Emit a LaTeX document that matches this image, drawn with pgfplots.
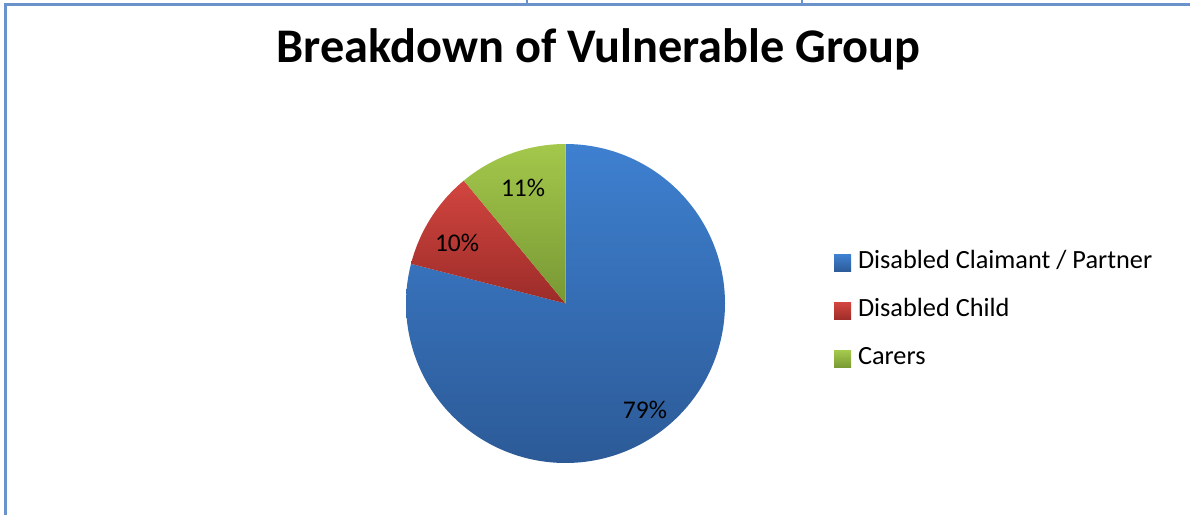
\documentclass[border=0pt]{standalone}
\usepackage{pgfplots}
\pgfplotsset{compat=1.18}
\usepackage{fontspec}
\setmainfont{Carlito}
\definecolor{frameblue}{HTML}{6A93CC}
\definecolor{bT}{HTML}{3E80D0}
\definecolor{bB}{HTML}{2C5A97}
\definecolor{rT}{HTML}{D2453F}
\definecolor{rB}{HTML}{9C2C29}
\definecolor{gT}{HTML}{A3C84B}
\definecolor{gB}{HTML}{789834}
% slice values (percent)
\def\vA{79}
\def\vB{10}
\def\vC{11}
\begin{document}
\begin{tikzpicture}[x=1pt,y=1pt]
\path[use as bounding box] (0,0) rectangle (1190,515);
% frame
\draw[frameblue, line width=2.6pt] (1190,510.5) -- (5.5,510.5) -- (5.5,0);
\draw[frameblue, line width=1.2pt] (527,515) -- (527,511);
\draw[frameblue, line width=1.2pt] (802,515) -- (802,511);
% title
\node[anchor=base, inner sep=0pt, font=\fontsize{48.3}{52}\selectfont\bfseries] at (598.5,452) {Breakdown of Vulnerable Group};
\pgfmathsetmacro{\aA}{90-3.6*\vA}
\pgfmathsetmacro{\aB}{\aA-3.6*\vB}
\pgfmathsetmacro{\aC}{\aB-3.6*\vC}
\begin{axis}[
  at={(565.5pt,211.5pt)}, anchor=center,
  width=319pt, height=319pt, scale only axis,
  xmin=-1, xmax=1, ymin=-1, ymax=1,
  hide axis, clip=false,
  legend image code/.code={\fill[#1] (0pt,-8.5pt) rectangle (17pt,8.5pt);},
  legend style={at={(1.3417,0.475)}, anchor=west, draw=none, fill=none,
    inner sep=0pt, outer sep=0pt, row sep=26pt, column sep=7pt,
    font=\fontsize{26.3}{30}\selectfont,
    nodes={inner sep=0pt, text height=16pt, text depth=6pt}},
  legend cell align=left,
]
\addplot[draw=none, top color=bT, bottom color=bB, domain=\aA:90, samples=200] ({cos(x)},{sin(x)}) -- (axis cs:0,0) -- cycle;
\addlegendentry{Disabled Claimant / Partner}
\addplot[draw=none, top color=rT, bottom color=rB, domain=\aB:\aA, samples=40] ({cos(x)},{sin(x)}) -- (axis cs:0,0) -- cycle;
\addlegendentry{Disabled Child}
\addplot[draw=none, top color=gT, bottom color=gB, domain=\aC:\aB, samples=40] ({cos(x)},{sin(x)}) -- (axis cs:0,0) -- cycle;
\addlegendentry{Carers}
\node[font=\fontsize{25.5}{28}\selectfont, inner sep=0pt] at (axis cs:0.498,-0.668) {79\%};
\node[font=\fontsize{25.5}{28}\selectfont, inner sep=0pt] at (axis cs:-0.680,0.379) {10\%};
\node[font=\fontsize{25.5}{28}\selectfont, inner sep=0pt] at (axis cs:-0.266,0.724) {11\%};
\end{axis}
\end{tikzpicture}
\end{document}
